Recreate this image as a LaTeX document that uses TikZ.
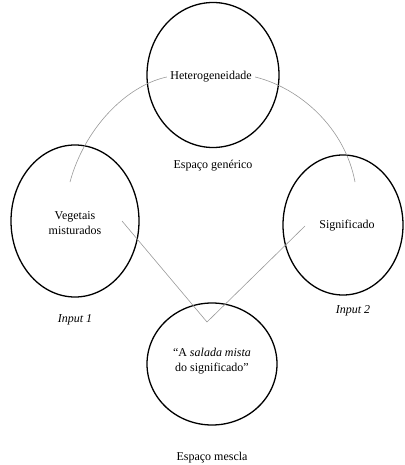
\documentclass[tikz,border=0pt]{standalone}
\usepackage{fontspec}
\setmainfont{Liberation Serif}
\usetikzlibrary{shapes.geometric}

\begin{document}
\begin{tikzpicture}[
        x=1pt, y=-1pt,
        every node/.style={font=\fontsize{12}{15}\selectfont},
        space/.style={draw, ellipse, line width=1.3pt, inner sep=0pt},
        link/.style={draw=gray!80, line width=0.6pt}]

        \useasboundingbox (0,0) rectangle (404,465);

        \node[space, minimum width=132pt, minimum height=145pt] (G) at (213,75) {};
        \node[space, minimum width=128pt, minimum height=152pt] (I1) at (75,221) {};
        \node[space, minimum width=120pt, minimum height=140pt] (I2) at (343,225) {};
        \node[space, minimum width=130pt, minimum height=122pt] (B) at (212,364) {};

        \node (het) at (211,77) {Heterogeneidade};
        \node[align=center] (veg) at (75,223) {Vegetais\\misturados};
        \node (sig) at (347,226) {Significado};
        \node[align=center] (sal) at (212,361) {``A \textit{salada mista}\\do significado''};

        \node (lG) at (213,166) {Espaço genérico};
        \node (lI1) at (75,320) {\textit{Input 1}};
        \node (lI2) at (353,311) {\textit{Input 2}};
        \node (lB) at (212,458) {Espaço mescla};

        \coordinate (vl) at (70,182);
        \coordinate (vr) at (355,182);
        \coordinate (ml) at (122,221);
        \coordinate (mr) at (305,226);
        \coordinate (apex) at (207,322);

        \draw[link] (het.west) .. controls (125,86) and (84,130) .. (vl);
        \draw[link] (het.east) .. controls (300,88) and (345,128) .. (vr);
        \draw[link] (ml) -- (apex) -- (mr);

    \end{tikzpicture}
\end{document}
